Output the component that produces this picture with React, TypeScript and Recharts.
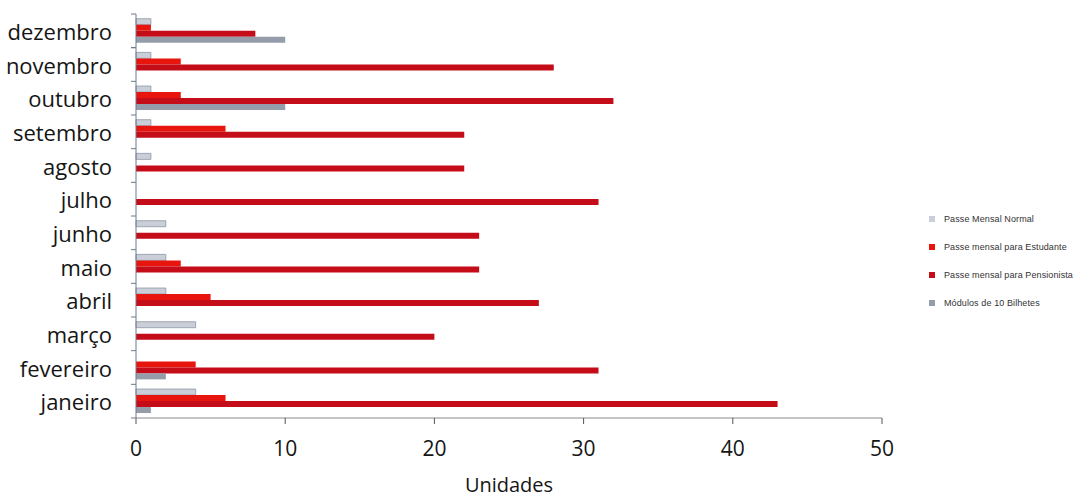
import {
  Bar,
  BarChart,
  XAxis,
  YAxis,
  Legend,
} from "recharts";

const months = [
  "janeiro",
  "fevereiro",
  "março",
  "abril",
  "maio",
  "junho",
  "julho",
  "agosto",
  "setembro",
  "outubro",
  "novembro",
  "dezembro",
];

// values per month, janeiro .. dezembro
const passeNormal = [4, 0, 4, 2, 2, 2, 0, 1, 1, 1, 1, 1];
const passeEstudante = [6, 4, 0, 5, 3, 0, 0, 0, 6, 3, 3, 1];
const passePensionista = [43, 31, 20, 27, 23, 23, 31, 22, 22, 32, 28, 8];
const modulos10 = [1, 2, 0, 0, 0, 0, 0, 0, 0, 10, 0, 10];

const seriesNames = [
  "Passe Mensal Normal",
  "Passe mensal para Estudante",
  "Passe mensal para Pensionista",
  "Módulos de 10 Bilhetes",
];

const xTicks = [0, 10, 20, 30, 40, 50];

const data = months.map((month, i) => ({
  month,
  normal: passeNormal[i],
  estudante: passeEstudante[i],
  pensionista: passePensionista[i],
  modulos: modulos10[i],
}));

const FONT = "'Open Sans', sans-serif";

function MonthTick(props: any) {
  const { x, y, payload, index, visibleTicksCount } = props;
  const half = payload.offset || 0;
  const axisX = x + 24;
  return (
    <g>
      <text
        x={x}
        y={y}
        textAnchor="end"
        dominantBaseline="central"
        fontFamily={FONT}
        fontSize={22}
        fill="#151515"
      >
        {payload.value}
      </text>
      <line x1={axisX - 5} x2={axisX} y1={y - half} y2={y - half} stroke="#6d7a8c" />
      {index === 0 || index === visibleTicksCount - 1 ? (
        <line x1={axisX - 5} x2={axisX} y1={y + half} y2={y + half} stroke="#6d7a8c" />
      ) : null}
    </g>
  );
}

function LegendBox({ payload }: any) {
  const items = [...(payload || [])].sort(
    (a: any, b: any) => seriesNames.indexOf(a.value) - seriesNames.indexOf(b.value)
  );
  return (
    <div style={{ fontFamily: "'Liberation Sans', sans-serif", fontSize: 9, color: "#333" }}>
      {items.map((item: any) => (
        <div key={item.value} style={{ display: "flex", alignItems: "center", height: 28 }}>
          <span
            style={{
              display: "inline-block",
              width: 6,
              height: 6,
              background: item.color,
              marginRight: 9,
            }}
          />
          <span style={{ letterSpacing: 0.1 }}>{item.value}</span>
        </div>
      ))}
    </div>
  );
}

export default function App() {
  return (
    <div style={{ position: "absolute", left: 0, top: 0, width: 1079, height: 498, background: "#fff" }}>
      <BarChart
        width={1079}
        height={498}
        data={data}
        layout="vertical"
        margin={{ top: 14, right: 47, left: 6, bottom: 0 }}
        barCategoryGap="14%"
        barGap={0}
      >
        <XAxis
          type="number"
          domain={[0, 50]}
          ticks={xTicks}
          height={80}
          axisLine={{ stroke: "#8a8a8a" }}
          tickLine={{ stroke: "#555" }}
          tickSize={6}
          tickMargin={17}
          tick={{ fontFamily: FONT, fontSize: 21, fill: "#151515" }}
          label={{
            value: "Unidades",
            position: "insideBottom",
            offset: 6,
            style: { fontFamily: FONT, fontSize: 20, fill: "#151515" },
          }}
        />
        <YAxis
          type="category"
          dataKey="month"
          reversed
          width={130}
          axisLine={{ stroke: "#6d7a8c" }}
          tickLine={false}
          tickSize={0}
          tickMargin={24}
          interval={0}
          tick={<MonthTick />}
        />
        <Legend
          layout="vertical"
          align="right"
          verticalAlign="middle"
          content={<LegendBox />}
          wrapperStyle={{ width: 150, left: 929, top: 205 }}
        />
        <Bar
          dataKey="normal"
          name={seriesNames[0]}
          fill="#c9ced8"
          stroke="#8e97a6"
          strokeWidth={0.8}
          isAnimationActive={false}
        />
        <Bar
          dataKey="estudante"
          name={seriesNames[1]}
          fill="#e8150e"
          isAnimationActive={false}
        />
        <Bar
          dataKey="pensionista"
          name={seriesNames[2]}
          fill="#c40d18"
          isAnimationActive={false}
        />
        <Bar
          dataKey="modulos"
          name={seriesNames[3]}
          fill="#959dab"
          isAnimationActive={false}
        />
      </BarChart>
    </div>
  );
}
